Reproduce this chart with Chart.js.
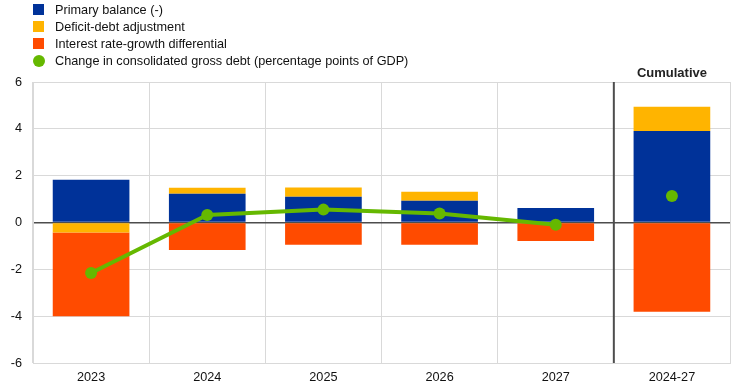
<!DOCTYPE html>
<html>
<head>
<meta charset="utf-8">
<script src="https://cdn.jsdelivr.net/npm/chart.js@4"></script>
<style>
  body { margin: 0; background: #fff; font-family: "Liberation Sans", Arial, sans-serif; }
  #wrap { position: relative; width: 743px; height: 390px; }
  #legend { position: absolute; left: 33px; top: 1px; font-size: 12.7px; color: #111; }
  .item { display: flex; align-items: center; height: 17px; }
  .sw { width: 11px; height: 11px; margin-right: 11px; }
  .dot { width: 12px; height: 12px; border-radius: 50%; margin-right: 10px; }
</style>
</head>
<body>
<div id="wrap">
  <canvas id="chart" width="743" height="390"></canvas>
  <div id="legend"></div>
</div>
<script>
const categories = ['2023', '2024', '2025', '2026', '2027', '2024-27'];
const primaryBalance = [1.83, 1.23, 1.10, 0.93, 0.62, 3.91];
const deficitDebt = [-0.43, 0.25, 0.39, 0.38, 0, 1.03];
const interestGrowth = [-3.57, -1.17, -0.95, -0.95, -0.79, -3.81];
const debtChange = [-2.16, 0.32, 0.55, 0.38, -0.10, 1.13];
const yTicks = [-6, -4, -2, 0, 2, 4, 6];

const BLUE = '#003299';
const YELLOW = '#ffb400';
const RED = '#ff4b00';
const GREEN = '#65b800';
const FONT = '"Liberation Sans", Arial, sans-serif';

const legendItems = [
  { label: 'Primary balance (-)', color: BLUE, dot: false },
  { label: 'Deficit-debt adjustment', color: YELLOW, dot: false },
  { label: 'Interest rate-growth differential', color: RED, dot: false },
  { label: 'Change in consolidated gross debt (percentage points of GDP)', color: GREEN, dot: true },
];
document.getElementById('legend').innerHTML = legendItems.map(it =>
  `<div class="item"><div class="${it.dot ? 'dot' : 'sw'}" style="background:${it.color}"></div>${it.label}</div>`
).join('');

// separator before the cumulative column + its heading
const cumulativePlugin = {
  id: 'cumulative',
  afterDatasetsDraw(chart) {
    const { ctx, chartArea, scales } = chart;
    const x = (scales.x.getPixelForValue(4) + scales.x.getPixelForValue(5)) / 2;
    ctx.save();
    ctx.strokeStyle = '#4d4d4d';
    ctx.lineWidth = 2;
    ctx.beginPath();
    ctx.moveTo(x, chartArea.top);
    ctx.lineTo(x, chartArea.bottom);
    ctx.stroke();
    ctx.fillStyle = '#222';
    ctx.font = 'bold 13px ' + FONT;
    ctx.textAlign = 'center';
    ctx.textBaseline = 'bottom';
    ctx.fillText('Cumulative', scales.x.getPixelForValue(5), chartArea.top - 2);
    ctx.restore();
  }
};

const barCommon = { stack: 'a', order: 2, categoryPercentage: 1, barPercentage: 0.66 };

new Chart(document.getElementById('chart'), {
  type: 'bar',
  data: {
    labels: categories,
    datasets: [
      { ...barCommon, label: 'Primary balance (-)', data: primaryBalance, backgroundColor: BLUE },
      { ...barCommon, label: 'Deficit-debt adjustment', data: deficitDebt, backgroundColor: YELLOW },
      { ...barCommon, label: 'Interest rate-growth differential', data: interestGrowth, backgroundColor: RED },
      {
        type: 'line',
        label: 'Change in consolidated gross debt',
        data: debtChange,
        order: 0,
        borderColor: GREEN,
        backgroundColor: GREEN,
        borderWidth: 4,
        pointRadius: 6,
        pointHoverRadius: 6,
        pointBorderWidth: 0,
        segment: { borderColor: c => c.p1DataIndex === 5 ? 'rgba(0,0,0,0)' : undefined },
      },
    ],
  },
  options: {
    responsive: false,
    animation: false,
    layout: { padding: { top: 82, right: 13, left: 0, bottom: 0 } },
    plugins: { legend: { display: false }, tooltip: { enabled: false } },
    scales: {
      x: {
        stacked: true,
        grid: { color: '#d9d9d9', lineWidth: 1, drawTicks: false, offset: true },
        border: { color: '#d9d9d9' },
        ticks: { color: '#111', font: { size: 12.7, family: FONT }, padding: 7 },
        afterFit: s => { s.height = 27; },
      },
      y: {
        stacked: true,
        min: -6,
        max: 6,
        afterBuildTicks: s => { s.ticks = yTicks.map(v => ({ value: v })); },
        grid: {
          color: c => c.tick && c.tick.value === 0 ? '#4d4d4d' : '#d9d9d9',
          lineWidth: c => c.tick && c.tick.value === 0 ? 1.5 : 1,
          drawTicks: false,
        },
        border: { color: '#d9d9d9' },
        ticks: { color: '#111', font: { size: 12.7, family: FONT }, padding: 11 },
        afterFit: s => { s.width = 33; },
      },
    },
  },
  plugins: [cumulativePlugin],
});
</script>
</body>
</html>
